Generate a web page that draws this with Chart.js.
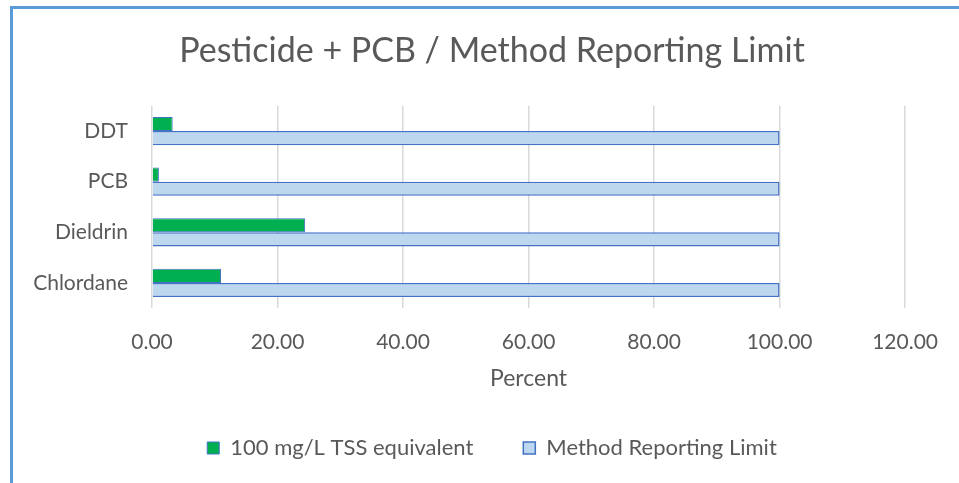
<!DOCTYPE html>
<html>
<head>
<meta charset="utf-8">
<script src="https://cdn.jsdelivr.net/npm/chart.js@4/dist/chart.umd.min.js"></script>
<style>
  html, body { margin: 0; padding: 0; background: #fff; overflow: hidden; }
  #frame {
    position: absolute; left: 10px; top: 6px;
    width: 960px; height: 490px;
    border: 3px solid #5b9bd5;
    background: #fff;
  }
  #wrap { position: absolute; left: 0; top: 0; width: 946px; height: 474px; }
</style>
</head>
<body>
<div id="frame"><div id="wrap"><canvas id="chart"></canvas></div></div>
<script>
// values
var categories = ['DDT', 'PCB', 'Dieldrin', 'Chlordane'];
var tssEquivalent = [3.3, 1.1, 24.4, 11.0];
var reportingLimit = [100, 100, 100, 100];
var seriesNames = ['100 mg/L TSS equivalent', 'Method Reporting Limit'];

var fontFamily = 'Lato, "Open Sans", sans-serif';
var textColor = '#595959';

new Chart(document.getElementById('chart'), {
    type: 'bar',
    data: {
        labels: categories,
        datasets: [{
            label: seriesNames[0],
            data: tssEquivalent,
            backgroundColor: '#00b050',
            borderColor: '#4472c4',
            borderWidth: 1,
            categoryPercentage: 0.56,
            barPercentage: 1.0
        }, {
            label: seriesNames[1],
            data: reportingLimit,
            backgroundColor: '#bdd7ee',
            borderColor: '#4472c4',
            borderWidth: 1.5,
            categoryPercentage: 0.56,
            barPercentage: 1.0
        }]
    },
    options: {
        indexAxis: 'y',
        responsive: true,
        maintainAspectRatio: false,
        animation: false,
        layout: { padding: { left: 16, right: 4, top: 0, bottom: 14 } },
        plugins: {
            title: {
                display: true,
                text: 'Pesticide + PCB / Method Reporting Limit',
                color: textColor,
                font: { family: fontFamily, size: 34, weight: 'normal' },
                padding: { top: 22, bottom: 34 }
            },
            legend: {
                position: 'bottom',
                labels: {
                    color: textColor,
                    font: { family: fontFamily, size: 22 },
                    boxWidth: 12,
                    boxHeight: 12,
                    padding: 50
                }
            },
            tooltip: { enabled: false }
        },
        scales: {
            x: {
                min: 0,
                max: 120,
                afterFit: function(scale) { scale.height -= 23; },
                ticks: {
                    stepSize: 20,
                    color: textColor,
                    font: { family: fontFamily, size: 21 },
                    padding: 21,
                    callback: function(v) { return Number(v).toFixed(2); }
                },
                grid: { color: '#d9d9d9', lineWidth: 1.5, drawTicks: false },
                border: { display: false },
                title: {
                    display: true,
                    text: 'Percent',
                    color: textColor,
                    font: { family: fontFamily, size: 23 },
                    padding: { top: 12, bottom: -5 }
                }
            },
            y: {
                afterFit: function(scale) { scale.width = 123; },
                ticks: {
                    color: textColor,
                    font: { family: fontFamily, size: 21 },
                    padding: 24
                },
                grid: { display: false, drawTicks: false },
                border: { display: false }
            },
            // empty spacer on the right so title and legend sit where the original has them
            spacer: {
                type: 'linear',
                position: 'right',
                afterFit: function(scale) { scale.width = 44; },
                ticks: { display: false },
                grid: { display: false, drawTicks: false },
                border: { display: false }
            }
        }
    }
});
</script>
</body>
</html>
